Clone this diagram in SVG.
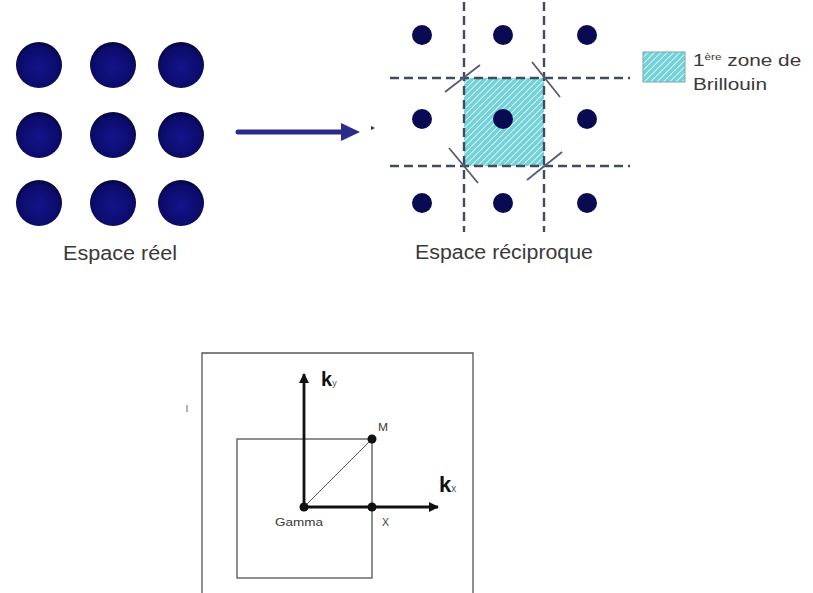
<svg xmlns="http://www.w3.org/2000/svg" width="813" height="593" viewBox="0 0 813 593">
<defs>
<radialGradient id="dotg" cx="0.5" cy="0.55" r="0.55">
<stop offset="0" stop-color="#14148c"/>
<stop offset="0.8" stop-color="#0b0b6a"/>
<stop offset="1" stop-color="#05053a"/>
</radialGradient>
<pattern id="hatch" width="4.5" height="4.5" patternUnits="userSpaceOnUse" patternTransform="rotate(45)">
<rect width="4.5" height="4.5" fill="#72d2d8"/>
<line x1="0" y1="0" x2="0" y2="4.5" stroke="#e2f7f7" stroke-width="1.8"/>
</pattern>
<marker id="ah" markerWidth="10" markerHeight="10" refX="9" refY="5" orient="auto" markerUnits="userSpaceOnUse">
<path d="M0,0 L10,5 L0,10 Z" fill="#111"/>
</marker>
<style>
.big{fill:url(#dotg)}
.rec{fill:#0a0a52}
.dash{stroke:#414b5e;stroke-width:2.4;stroke-dasharray:9,5;fill:none}
.diag{stroke:#555a75;stroke-width:1.8}
.lbl{font-family:"Liberation Sans",Arial,sans-serif;fill:#3a3a3a}
.frame{fill:none;stroke:#555;stroke-width:1.3}
.axis{stroke:#111;stroke-width:2.8;fill:none}
.pt{fill:#111}
.kk{font-family:"Liberation Sans",Arial,sans-serif;font-weight:bold;fill:#111}
</style>
</defs>
<rect width="813" height="593" fill="#fff"/>

<g id="real-space">
<circle class="big" cx="39" cy="65" r="23"/>
<circle class="big" cx="113" cy="65" r="23"/>
<circle class="big" cx="181" cy="65" r="23"/>
<circle class="big" cx="39" cy="135" r="23"/>
<circle class="big" cx="113" cy="135" r="23"/>
<circle class="big" cx="181" cy="135" r="23"/>
<circle class="big" cx="39" cy="203" r="23"/>
<circle class="big" cx="113" cy="203" r="23"/>
<circle class="big" cx="181" cy="203" r="23"/>
<text class="lbl" x="120" y="260" font-size="20" text-anchor="middle" textLength="114" lengthAdjust="spacingAndGlyphs">Espace réel</text>
</g>

<g id="connectors">
<line x1="238" y1="132" x2="344" y2="132" stroke="#2b2b8c" stroke-width="5" stroke-linecap="round"/>
<path d="M341,123 L360,132 L341,141 Z" fill="#2b2b8c"/>
<path d="M371,126 L375,128 L371,130 Z" fill="#333"/>
</g>

<g id="reciprocal-space">
<rect x="464" y="78" width="80" height="88" fill="url(#hatch)"/>
<line class="dash" x1="464" y1="2" x2="464" y2="232"/>
<line class="dash" x1="544" y1="2" x2="544" y2="232"/>
<line class="dash" x1="390" y1="78" x2="630" y2="78"/>
<line class="dash" x1="390" y1="166" x2="630" y2="166"/>
<line class="diag" x1="445" y1="92" x2="480" y2="65"/>
<line class="diag" x1="532" y1="62" x2="560" y2="97"/>
<line class="diag" x1="449" y1="148" x2="478" y2="183"/>
<line class="diag" x1="527" y1="180" x2="562" y2="152"/>
<circle class="rec" cx="422" cy="35" r="10"/>
<circle class="rec" cx="503" cy="35" r="10"/>
<circle class="rec" cx="587" cy="35" r="10"/>
<circle class="rec" cx="422" cy="119" r="10"/>
<circle class="rec" cx="503" cy="119" r="10"/>
<circle class="rec" cx="587" cy="119" r="10"/>
<circle class="rec" cx="422" cy="203" r="10"/>
<circle class="rec" cx="503" cy="203" r="10"/>
<circle class="rec" cx="587" cy="203" r="10"/>
<text class="lbl" x="504" y="259" font-size="20" text-anchor="middle" textLength="178" lengthAdjust="spacingAndGlyphs">Espace réciproque</text>
</g>

<g id="legend">
<rect x="643" y="52" width="42" height="30" fill="url(#hatch)" stroke="#7aa6b0" stroke-width="1"/>
<text class="lbl" font-size="16" transform="translate(693,66) scale(1.3,1)">1<tspan font-size="9" dy="-6">ère</tspan><tspan dy="6"> zone de</tspan></text>
<text class="lbl" font-size="16" transform="translate(693,90) scale(1.3,1)">Brillouin</text>
</g>

<g id="brillouin-zone-2d">
<path class="frame" d="M202,600 L202,353 L473,353 L473,600"/>
<rect class="frame" x="237" y="439" width="135" height="139"/>
<line x1="304" y1="507" x2="372" y2="439" stroke="#555" stroke-width="1"/>
<line class="axis" x1="304" y1="507" x2="304" y2="374" marker-end="url(#ah)"/>
<line class="axis" x1="304" y1="507" x2="438" y2="507" marker-end="url(#ah)"/>
<circle class="pt" cx="304" cy="507" r="4.5"/>
<circle class="pt" cx="372" cy="507" r="4.5"/>
<circle class="pt" cx="372" cy="439" r="4.5"/>
<text class="kk" x="321" y="386" font-size="20">k<tspan font-size="9" font-weight="normal" fill="#555">y</tspan></text>
<text class="kk" x="439" y="492" font-size="22">k<tspan font-size="10" font-weight="normal" fill="#555">x</tspan></text>
<text class="lbl" x="378" y="431" font-size="10" textLength="10" lengthAdjust="spacingAndGlyphs">M</text>
<text class="lbl" x="275" y="526" font-size="10" textLength="48" lengthAdjust="spacingAndGlyphs">Gamma</text>
<text class="lbl" x="382" y="526" font-size="10" textLength="7" lengthAdjust="spacingAndGlyphs">X</text>
<line x1="187" y1="405" x2="187" y2="412" stroke="#666" stroke-width="1"/>
</g>
</svg>
